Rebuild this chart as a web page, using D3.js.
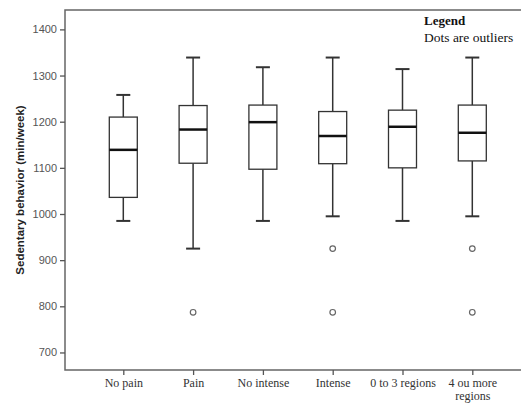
<!DOCTYPE html>
<html>
<head>
<meta charset="utf-8">
<script src="https://cdn.jsdelivr.net/npm/d3@7"></script>
<style>
  body { margin: 0; background: #fff; }
  svg { display: block; }
</style>
</head>
<body>
<div id="chart"></div>
<script>
/* DATA */
const groups = ["No pain", "Pain", "No intense", "Intense", "0 to 3 regions", "4 ou more regions"];
const whiskerLow = [985, 925, 985, 995, 985, 995];
const q1 = [1036, 1110, 1097, 1109, 1100, 1115];
const medians = [1139, 1183, 1199, 1169, 1189, 1176];
const q3 = [1210, 1235, 1236, 1222, 1225, 1236];
const whiskerHigh = [1258, 1339, 1318, 1339, 1314, 1339];
const outliers = [[], [787], [], [925, 787], [], [925, 787]];
const yTicks = [700, 800, 900, 1000, 1100, 1200, 1300, 1400];

const width = 521, height = 403;
const margin = { top: 10, bottom: 33, left: 65 };

const svg = d3.select("#chart").append("svg")
  .attr("width", width)
  .attr("height", height);

// scales
const xScale = d3.scalePoint()
  .domain(groups)
  .range([123.3, 472.3]);

const yScale = d3.scaleLinear()
  .domain([662, 1442])
  .range([height - margin.bottom, margin.top]);

const boxW = 28, capW = 14;

// frame: top, left and bottom sides; the right side is cut off in the picture
const yTop = margin.top, yBot = height - margin.bottom;
svg.append("path")
  .attr("d", `M${width},${yTop}H${margin.left}V${yBot}H${width}`)
  .attr("fill", "none")
  .attr("stroke", "#666")
  .attr("stroke-width", 1.5);

// y axis
const yAxis = d3.axisLeft(yScale)
  .tickValues(yTicks)
  .tickFormat(d3.format("d"))
  .tickSize(5)
  .tickPadding(3);
const gy = svg.append("g")
  .attr("transform", `translate(${margin.left},0)`)
  .call(yAxis);
gy.select(".domain").remove();
gy.selectAll(".tick line").attr("stroke", "#555").attr("stroke-width", 1.3);
gy.selectAll(".tick text")
  .attr("fill", "#555")
  .style("font-family", "'Liberation Sans', Arial, sans-serif")
  .style("font-size", "11px");

// x axis
const xAxis = d3.axisBottom(xScale).tickSize(5);
const gx = svg.append("g")
  .attr("transform", `translate(0,${yBot})`)
  .call(xAxis);
gx.select(".domain").remove();
gx.selectAll(".tick line").attr("stroke", "#555").attr("stroke-width", 1.3);
gx.selectAll(".tick text").remove();
gx.selectAll(".tick").each(function(d) {
  const words = d === "4 ou more regions" ? ["4 ou more", "regions"] : [d];
  const t = d3.select(this).append("text")
    .attr("fill", "#333")
    .attr("text-anchor", "middle")
    .style("font-family", "'Liberation Serif', 'Times New Roman', serif")
    .style("font-size", "12px");
  words.forEach((w, i) => {
    t.append("tspan").attr("x", 0).attr("y", 17 + i * 13).text(w);
  });
});

// y axis label
svg.append("text")
  .attr("transform", `translate(24,190) rotate(-90)`)
  .attr("text-anchor", "middle")
  .attr("fill", "#222")
  .style("font-family", "'Liberation Sans', Arial, sans-serif")
  .style("font-weight", "bold")
  .style("font-size", "11.5px")
  .text("Sedentary behavior (min/week)");

// boxes
const boxes = svg.append("g").attr("stroke", "#333").attr("fill", "none");
groups.forEach((g, i) => {
  const cx = xScale(g);
  const b = boxes.append("g");
  // whiskers
  b.append("line")
    .attr("x1", cx).attr("x2", cx)
    .attr("y1", yScale(whiskerHigh[i])).attr("y2", yScale(q3[i]))
    .attr("stroke-width", 1.5);
  b.append("line")
    .attr("x1", cx).attr("x2", cx)
    .attr("y1", yScale(q1[i])).attr("y2", yScale(whiskerLow[i]))
    .attr("stroke-width", 1.5);
  // caps
  [whiskerHigh[i], whiskerLow[i]].forEach(v => {
    b.append("line")
      .attr("x1", cx - capW / 2).attr("x2", cx + capW / 2)
      .attr("y1", yScale(v)).attr("y2", yScale(v))
      .attr("stroke-width", 2);
  });
  // box
  b.append("rect")
    .attr("x", cx - boxW / 2)
    .attr("y", yScale(q3[i]))
    .attr("width", boxW)
    .attr("height", yScale(q1[i]) - yScale(q3[i]))
    .attr("fill", "#fff")
    .attr("stroke-width", 1.3);
  // median
  b.append("line")
    .attr("x1", cx - boxW / 2).attr("x2", cx + boxW / 2)
    .attr("y1", yScale(medians[i])).attr("y2", yScale(medians[i]))
    .attr("stroke", "#111")
    .attr("stroke-width", 2.5);
  // outliers
  b.selectAll("circle")
    .data(outliers[i])
    .join("circle")
    .attr("cx", cx)
    .attr("cy", d => yScale(d))
    .attr("r", 2.8)
    .attr("fill", "#fff")
    .attr("stroke", "#666")
    .attr("stroke-width", 1.2);
});

// legend note
svg.append("text")
  .attr("x", 424)
  .attr("y", 25)
  .attr("fill", "#111")
  .style("font-family", "'Liberation Serif', 'Times New Roman', serif")
  .style("font-weight", "bold")
  .style("font-size", "13px")
  .text("Legend");
svg.append("text")
  .attr("x", 424)
  .attr("y", 42)
  .attr("fill", "#111")
  .style("font-family", "'Liberation Serif', 'Times New Roman', serif")
  .style("font-size", "13.5px")
  .text("Dots are outliers");
</script>
</body>
</html>
